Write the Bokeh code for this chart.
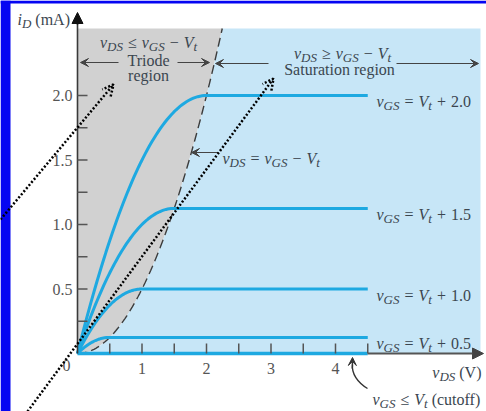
import numpy as np
from bokeh.plotting import figure
from bokeh.models import Range1d, Arrow, VeeHead, OpenHead, NormalHead
from bokeh.core.properties import value
from bokeh.embed import file_html
from bokeh.resources import INLINE

# ---- data -------------------------------------------------------------
# overdrive voltages v_GS - V_t (V) and the saturation current each gives (mA)
v_ov = [0.5, 1.0, 1.5, 2.0]
i_sat = [0.125, 0.5, 1.125, 2.0]
ov_labels = ["0.5", "1.0", "1.5", "2.0"]
v_ds_end = 4.5          # where the drawn characteristics stop (V)

x_ticks = [0.5, 1.0, 1.5, 2.0, 2.5, 3.0, 3.5, 4.0, 4.5]
x_label_pos = [1, 2, 3, 4]
x_labels = ["1", "2", "3", "4"]
y_ticks = [0.25, 0.5, 0.75, 1.0, 1.25, 1.5, 1.75, 2.0]
y_label_pos = [0.5, 1.0, 1.5, 2.0]
y_labels = ["0.5", "1.0", "1.5", "2.0"]

# ---- canvas geometry (pixel <-> data) ---------------------------------
W, H = 486, 411
PX_X0, PX_Y0 = 77, 353
PX_PER_V, PX_PER_MA = 64.5, 129.0


def vx(px):
    return (px - PX_X0) / PX_PER_V


def my(py):
    return (PX_Y0 - py) / PX_PER_MA


p = figure(width=W, height=H, output_backend="svg", toolbar_location=None,
           x_axis_type=None, y_axis_type=None,
           x_range=Range1d(vx(0), vx(W)), y_range=Range1d(my(H), my(0)),
           min_border=0)
p.outline_line_color = None
p.background_fill_color = "white"
p.grid.visible = False

SERIF = value("Liberation Serif")
TXT = "#3b4650"
CYAN = "#1ea9e1"

# slide frame
p.quad(left=[vx(0)], right=[vx(10)], bottom=[my(H)], top=[my(0)],
       fill_color="#0505f2", line_color=None)
p.quad(left=[vx(0)], right=[vx(W)], bottom=[my(3)], top=[my(0)],
       fill_color="#0505f2", line_color=None)

# ---- regions ----------------------------------------------------------
k = 2 * i_sat[-1] / v_ov[-1] ** 2          # square-law constant (mA/V^2)
i_top = my(28)
v_top = np.sqrt(2 * i_top / k)
vb = np.linspace(0, v_top, 80)
ib = 0.5 * k * vb ** 2

p.patch(list(vb) + [0], list(ib) + [i_top], fill_color="#d1d1d1", line_color=None)
p.patch(list(vb) + [vx(480), vx(480)], list(ib) + [i_top, 0],
        fill_color="#c7e6f7", line_color=None)

# boundary v_DS = v_GS - V_t
p.line(vb, ib, line_color="#3c3c3c", line_width=1.4, line_dash="9 5")

# ---- characteristics --------------------------------------------------
for vo, isat in zip(v_ov, i_sat):
    kk = 2 * isat / vo ** 2
    vt = np.linspace(0, vo, 60)
    it = kk * (vo * vt - vt ** 2 / 2)
    xs = list(vt) + [v_ds_end]
    ys = list(it) + [isat]
    p.line(xs, ys, line_color=CYAN, line_width=3)

# cutoff (i_D = 0)
p.line([0, v_ds_end], [0, 0], line_color=CYAN, line_width=3.5)

# ---- axes -------------------------------------------------------------
p.segment(x0=[0], y0=[0], x1=[0], y1=[my(22)], line_color="#3a3a3a", line_width=1.6)
p.add_layout(Arrow(end=NormalHead(size=11, fill_color="#111", line_color="#111"),
                   x_start=0, y_start=my(24), x_end=0, y_end=my(12),
                   line_color="#111", line_width=1.6))
p.add_layout(Arrow(end=NormalHead(size=11, fill_color="#444", line_color="#444"),
                   x_start=v_ds_end, y_start=0, x_end=vx(483), y_end=0,
                   line_color="#555", line_width=2))

p.segment(x0=[0] * len(y_ticks), y0=y_ticks, x1=[vx(87)] * len(y_ticks), y1=y_ticks,
          line_color="#555", line_width=1.5)
p.segment(x0=x_ticks, y0=[0] * len(x_ticks), x1=x_ticks, y1=[my(343)] * len(x_ticks),
          line_color="#555", line_width=1.5)

p.text(x=[vx(72)] * len(y_labels), y=y_label_pos, text=y_labels,
       text_font=SERIF, text_font_size="16px", text_color="#555",
       text_align="right", text_baseline="middle")
p.text(x=x_label_pos, y=[my(368)] * len(x_labels), text=x_labels,
       text_font=SERIF, text_font_size="16px", text_color="#555",
       text_align="center", text_baseline="middle")
p.text(x=[vx(66)], y=[my(365)], text=["0"], text_font=SERIF, text_font_size="16px",
       text_color="#555", text_align="center", text_baseline="middle")

# ---- rich text (italic symbols with subscripts) -----------------------
# kinds: "i" italic, "s" italic subscript, "r" roman, "o" roman operator with
# thick space on both sides, "g" a plain word gap
ROMAN = {' ': 250, '=': 564, '+': 564, '\u2212': 564, '\u2264': 549, '\u2265': 549,
         '(': 333, ')': 333, '.': 250, 'c': 444, 'u': 500, 't': 278, 'o': 500,
         'f': 333, 'm': 778, 'A': 722, 'V': 722}
ITALIC = {'v': 444, 'D': 722, 'S': 500, 'G': 722, 'V': 611, 't': 278, 'i': 278}
MAIN, SUB, DROP, OPGAP, WGAP = 16, 13, 4, 5.0, 4.0


def run_w(s, kind):
    if kind == "g":
        return WGAP
    size = SUB if kind == "s" else MAIN
    table = ITALIC if kind in ("i", "s") else ROMAN
    w = sum(table.get(ch, 500) for ch in s) * size / 1000.0
    return w + (2 * OPGAP if kind == "o" else 0)


def rich(px, py, runs, align="left", color=TXT):
    total = sum(run_w(s, kd) for s, kd in runs)
    cur = px - (total / 2 if align == "center" else total if align == "right" else 0)
    for s, kd in runs:
        if kd != "g":
            size = SUB if kd == "s" else MAIN
            x0 = cur + (OPGAP if kd == "o" else 0)
            p.text(x=[vx(x0)], y=[my(py + (DROP if kd == "s" else 0))], text=[s],
                   text_font=SERIF, text_font_size=f"{size}px",
                   text_font_style="italic" if kd in ("i", "s") else "normal",
                   text_color=color, text_align="left", text_baseline="alphabetic")
        cur += run_w(s, kd)


def plain(px, py, s, align="center", size="16px", color=TXT):
    p.text(x=[vx(px)], y=[my(py)], text=[s], text_font=SERIF, text_font_size=size,
           text_color=color, text_align=align, text_baseline="alphabetic")


# axis titles
rich(17, 19, [("i", "i"), ("D", "s"), ("", "g"), ("(mA)", "r")])
rich(481, 372, [("v", "i"), ("DS", "s"), ("", "g"), ("(V)", "r")], align="right")

# region headings
rich(148, 42, [("v", "i"), ("DS", "s"), ("\u2264", "o"), ("v", "i"), ("GS", "s"),
               ("\u2212", "o"), ("V", "i"), ("t", "s")], align="center")
plain(148, 60, "Triode")
plain(148, 75, "region")
rich(342, 53, [("v", "i"), ("DS", "s"), ("\u2265", "o"), ("v", "i"), ("GS", "s"),
               ("\u2212", "o"), ("V", "i"), ("t", "s")], align="center")
plain(339, 69, "Saturation region")

rich(222, 158, [("v", "i"), ("DS", "s"), ("=", "o"), ("v", "i"), ("GS", "s"),
                ("\u2212", "o"), ("V", "i"), ("t", "s")])

# curve labels
for isat, lab in zip(i_sat, ov_labels):
    py = PX_Y0 - isat * PX_PER_MA + 6
    rich(376, py, [("v", "i"), ("GS", "s"), ("=", "o"), ("V", "i"), ("t", "s"),
                   ("+", "o"), (lab, "r")])

rich(372, 399, [("v", "i"), ("GS", "s"), ("\u2264", "o"), ("V", "i"), ("t", "s"),
                ("", "g"), ("(cutoff)", "r")])


# ---- arrows -----------------------------------------------------------
def harrow(px0, px1, py):
    p.add_layout(Arrow(end=VeeHead(size=8, fill_color="#444", line_color="#444"),
                       x_start=vx(px0), y_start=my(py), x_end=vx(px1), y_end=my(py),
                       line_color="#444", line_width=1.2))


harrow(118, 80, 62)
harrow(177, 209, 62)
harrow(268, 215, 63)
harrow(396, 478, 63)
harrow(218, 191, 152)

# cutoff pointer
p.bezier(x0=[vx(367)], y0=[my(388)], x1=[vx(352)], y1=[my(364)],
         cx0=[vx(357)], cy0=[my(382)], cx1=[vx(351)], cy1=[my(373)],
         line_color="#333", line_width=1.4)
p.add_layout(Arrow(end=VeeHead(size=8, fill_color="#333", line_color="#333"),
                   x_start=vx(351.8), y_start=my(368), x_end=vx(352), y_end=my(357),
                   line_color="#333", line_width=1.4))

# dotted pointers
for (ax0, ay0, ax1, ay1) in [(0, 219, 113, 84), (27, 411, 273, 78)]:
    p.add_layout(Arrow(end=OpenHead(size=11, line_width=2.5, line_dash="2 2",
                                    line_color="black"),
                       x_start=vx(ax0), y_start=my(ay0), x_end=vx(ax1), y_end=my(ay1),
                       line_color="black", line_width=2.5, line_dash="2 2"))

open("out.html", "w").write(file_html(p, INLINE))
